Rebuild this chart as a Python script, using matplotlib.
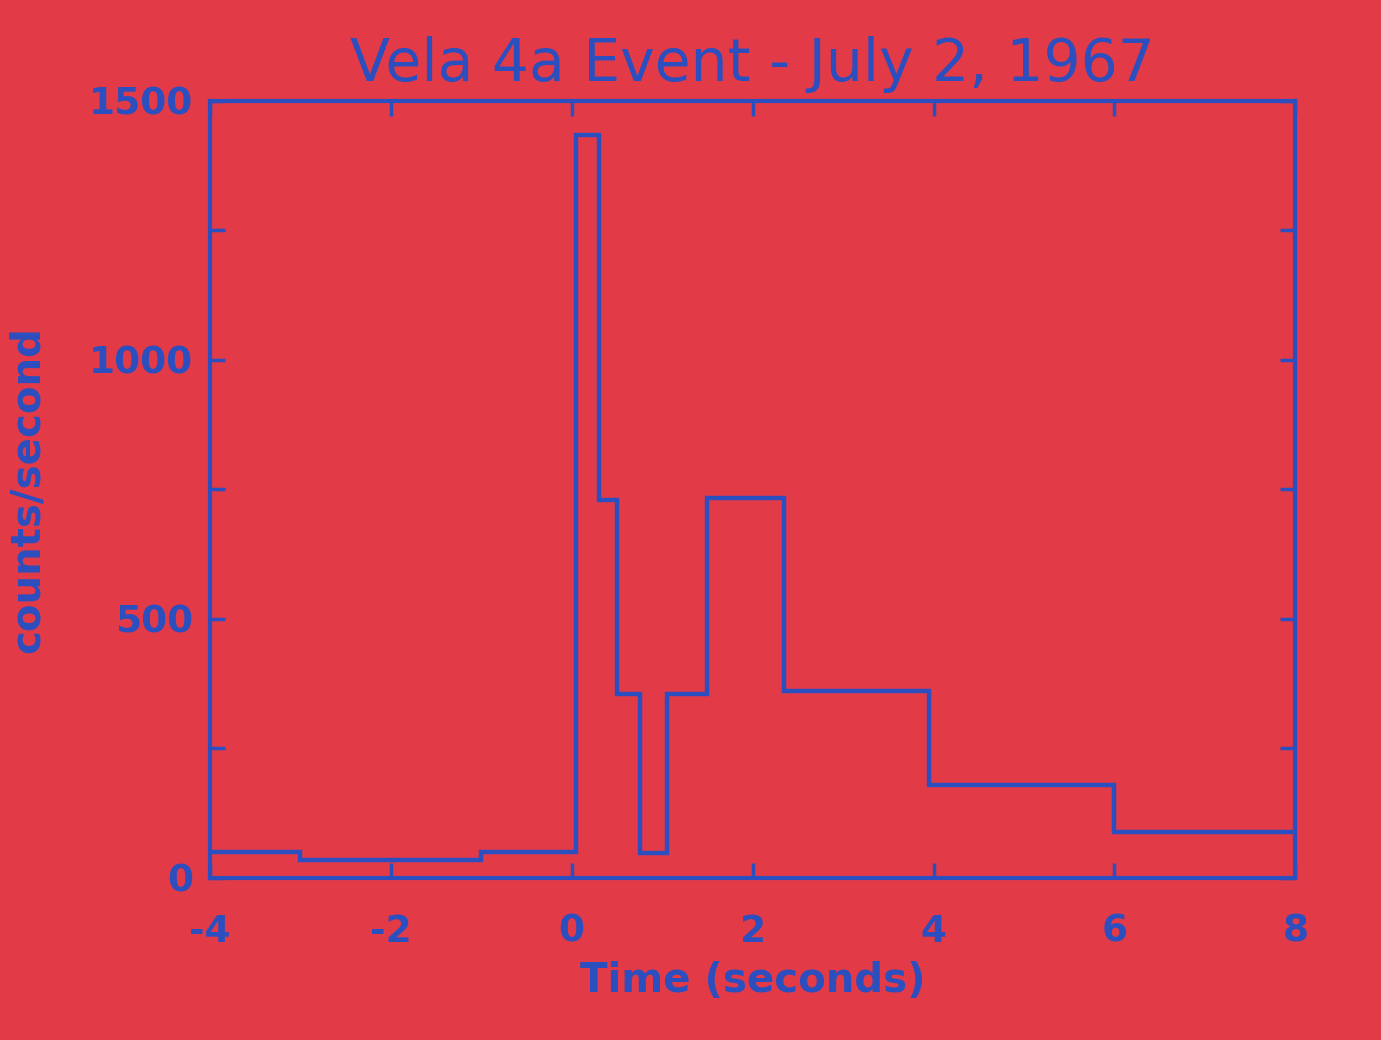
import matplotlib.pyplot as plt
import numpy as np

plt.rcParams['axes.unicode_minus'] = False

# Vela 4a light curve
bin_edges = [-4, -3, -1, 0.05, 0.3, 0.5, 0.75, 1.05, 1.5, 2.35, 3.95, 6.0, 8.0]
counts = [50, 35, 50, 1435, 730, 355, 48, 355, 733, 360, 180, 89]

x_ticks = [-4, -2, 0, 2, 4, 6, 8]
y_ticks = [0, 500, 1000, 1500]

bg_red = '#e33a48'
ink = '#2b4fbf'

fig = plt.figure(figsize=(13.81, 10.40), dpi=100, facecolor=bg_red)
ax = fig.add_axes([0.152, 0.156, 0.786, 0.747], facecolor=bg_red)

ax.stairs(counts, bin_edges, color=ink, linewidth=3.2, baseline=None)

ax.set_xlim(-4, 8)
ax.set_ylim(0, 1500)
ax.set_xticks(x_ticks)
ax.set_yticks(y_ticks)
ax.set_yticks(np.arange(250, 1500, 500), minor=True)

for s in ax.spines.values():
    s.set_color(ink)
    s.set_linewidth(3.0)

ax.tick_params(axis='both', which='both', direction='in', colors=ink,
               top=True, right=True, width=2.5)
ax.tick_params(axis='both', which='major', length=11, labelsize=27)
ax.tick_params(axis='y', which='minor', length=11)
ax.tick_params(axis='x', which='major', pad=26)
ax.tick_params(axis='y', which='major', pad=12)
for lbl in ax.get_xticklabels() + ax.get_yticklabels():
    lbl.set_color(ink)
    lbl.set_fontweight('bold')

ax.set_title('Vela 4a Event - July 2, 1967', fontsize=42, color=ink, pad=14)
ax.set_xlabel('Time (seconds)', fontsize=29, color=ink, fontweight='bold', labelpad=8)
ax.set_ylabel('counts/second', fontsize=29, color=ink, fontweight='bold', labelpad=30)

fig.savefig('out.png', dpi=100, facecolor=bg_red)
